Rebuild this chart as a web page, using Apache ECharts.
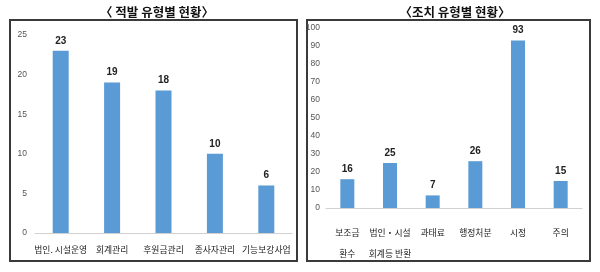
<!DOCTYPE html>
<html><head><meta charset="utf-8">
<script src="https://cdn.jsdelivr.net/npm/echarts@6/dist/echarts.min.js"></script>
<style>html,body{margin:0;padding:0;background:#fff}#c{width:600px;height:272px}</style>
</head><body><div id="c"></div>
<script>
const leftTitle = '〈 적발 유형별 현황〉';
const leftCategories = ['법인. 시설운영', '회계관리', '후원금관리', '종사자관리', '기능보강사업'];
const leftValues = [23, 19, 18, 10, 6];
const leftMax = 25, leftInterval = 5;

const rightTitle = '〈조치 유형별 현황〉';
const rightCategories = ['보조금\n환수', '법인・시설\n회계등 반환', '과태료', '행정처분', '시정', '주의'];
const rightValues = [16, 25, 7, 26, 93, 15];
const rightMax = 100, rightInterval = 10;

const KR = '"Noto Sans CJK KR", "Noto Sans", sans-serif';
const NUM = '"Liberation Sans Narrow", "Liberation Sans", Arial, sans-serif';
const barColor = '#5b9bd5';

const chart = echarts.init(document.getElementById('c'), null, {renderer: 'canvas'});
chart.setOption({
  animation: false,
  title: [
    {text: leftTitle, left: 152, top: 1, textAlign: 'center',
     textStyle: {fontFamily: KR, fontSize: 12.5, fontWeight: 'bold', color: '#111'}},
    {text: rightTitle, left: 450, top: 1, textAlign: 'center',
     textStyle: {fontFamily: KR, fontSize: 12.5, fontWeight: 'bold', color: '#111'}}
  ],
  graphic: [
    {type: 'rect', shape: {x: 10, y: 20, width: 287, height: 241}, style: {fill: 'none', stroke: '#3a3a3a', lineWidth: 2}},
    {type: 'rect', shape: {x: 307, y: 20, width: 283, height: 241}, style: {fill: 'none', stroke: '#3a3a3a', lineWidth: 2}}
  ],
  grid: [
    {left: 35, right: 308, top: 35, bottom: 39},
    {left: 326, right: 18, top: 28, bottom: 64}
  ],
  xAxis: [
    {type: 'category', gridIndex: 0, data: leftCategories,
     axisLine: {lineStyle: {color: '#d0d0d0'}}, axisTick: {show: false},
     axisLabel: {fontFamily: KR, fontSize: 8.8, color: '#222', margin: 12, interval: 0}},
    {type: 'category', gridIndex: 1, data: rightCategories,
     axisLine: {lineStyle: {color: '#d0d0d0'}}, axisTick: {show: false},
     axisLabel: {fontFamily: KR, fontSize: 8.8, color: '#222', margin: 14, lineHeight: 21, interval: 0}}
  ],
  yAxis: [
    {type: 'value', gridIndex: 0, min: 0, max: leftMax, interval: leftInterval,
     axisLine: {show: false}, axisTick: {show: false}, splitLine: {show: false},
     axisLabel: {fontFamily: NUM, fontSize: 8.5, color: '#555', margin: 8}},
    {type: 'value', gridIndex: 1, min: 0, max: rightMax, interval: rightInterval,
     axisLine: {show: false}, axisTick: {show: false}, splitLine: {show: false},
     axisLabel: {fontFamily: NUM, fontSize: 8.5, color: '#555', margin: 6}}
  ],
  series: [
    {type: 'bar', xAxisIndex: 0, yAxisIndex: 0, data: leftValues, barWidth: 16,
     itemStyle: {color: barColor},
     label: {show: true, position: 'top', distance: 5, fontFamily: NUM, fontSize: 10, fontWeight: 'bold', color: '#222'}},
    {type: 'bar', xAxisIndex: 1, yAxisIndex: 1, data: rightValues, barWidth: 14,
     itemStyle: {color: barColor},
     label: {show: true, position: 'top', distance: 5, fontFamily: NUM, fontSize: 10, fontWeight: 'bold', color: '#222'}}
  ]
});
</script></body></html>
